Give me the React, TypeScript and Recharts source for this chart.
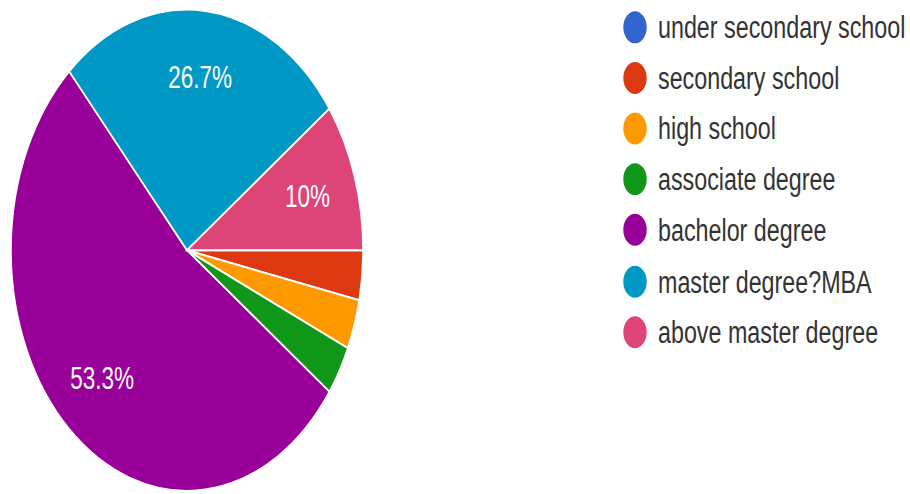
import React from 'react';
import { PieChart, Pie, Cell, Legend } from 'recharts';

const categories = [
  'under secondary school',
  'secondary school',
  'high school',
  'associate degree',
  'bachelor degree',
  'master degree?MBA',
  'above master degree',
];
const counts = [0, 1, 1, 1, 16, 8, 3];
const colors = ['#3366cc', '#dc3912', '#ff9900', '#109618', '#990099', '#0099c6', '#dd4477'];

const data = categories.map((name, i) => ({ name, value: counts[i] }));

const FONT = '"Liberation Sans", Arial, sans-serif';
const SY = 1.3675;
const RAD = Math.PI / 180;

const renderLabel = (props: any) => {
  const { cx, cy, midAngle, outerRadius, percent } = props;
  if (!percent || percent < 0.05) return null;
  const r = outerRadius * 0.72;
  const x = cx + r * Math.cos(-midAngle * RAD);
  const y = cy + r * Math.sin(-midAngle * RAD);
  const txt = (percent * 100).toFixed(1).replace(/\.0$/, '') + '%';
  return (
    <text
      x={x}
      y={y}
      fill="#ffffff"
      textAnchor="middle"
      dominantBaseline="central"
      fontSize={22.5}
      fontFamily={FONT}
    >
      {txt}
    </text>
  );
};

const renderLegend = () => (
  <div style={{ fontFamily: FONT }}>
    {categories.map((name, i) => (
      <div
        key={name}
        style={{ height: 37.2, display: 'flex', alignItems: 'center', whiteSpace: 'nowrap' }}
      >
        <svg width={24} height={24} style={{ display: 'block', marginRight: 11 }}>
          <circle cx={12} cy={12} r={11.7} fill={colors[i]} />
        </svg>
        <span style={{ fontSize: 23.3, color: '#333333', lineHeight: '24px' }}>{name}</span>
      </div>
    ))}
  </div>
);

export default function App() {
  return (
    <div
      style={{
        position: 'absolute',
        left: 0,
        top: 0,
        width: 910,
        height: 361,
        transform: `scaleY(${SY})`,
        transformOrigin: '0 0',
        background: '#ffffff',
      }}
    >
      <PieChart width={910} height={361} margin={{ top: 0, right: 0, bottom: 0, left: 0 }}>
        <Pie
          data={data}
          dataKey="value"
          nameKey="name"
          cx={187}
          cy={183}
          outerRadius={176}
          startAngle={0}
          endAngle={-360}
          stroke="#ffffff"
          strokeWidth={1.5}
          label={renderLabel}
          labelLine={false}
          isAnimationActive={false}
        >
          {data.map((d, i) => (
            <Cell key={d.name} fill={colors[i]} />
          ))}
        </Pie>
        <Legend
          layout="vertical"
          verticalAlign="top"
          align="right"
          wrapperStyle={{ left: 623, right: 'auto', top: 1, width: 290 }}
          content={renderLegend}
        />
      </PieChart>
    </div>
  );
}
